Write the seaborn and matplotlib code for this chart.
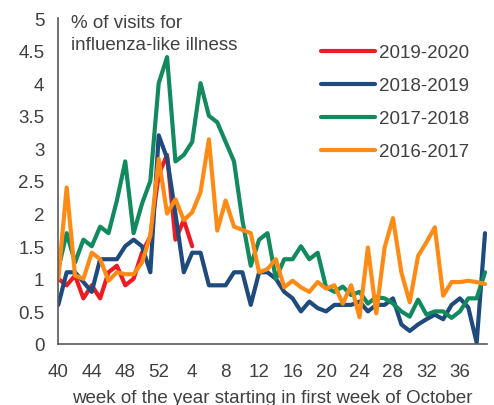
import matplotlib
matplotlib.use("Agg")
import matplotlib.pyplot as plt
import seaborn as sns
import pandas as pd
import numpy as np
from matplotlib.lines import Line2D

# ---- data ----
weeks = list(range(40, 53)) + list(range(1, 40))
seasons = ["2019-2020", "2018-2019", "2017-2018", "2016-2017"]
s2019_2020 = [1.0, 0.9, 1.05, 0.7, 0.9, 0.7, 1.1, 1.2, 0.9, 1.0, 1.4, 1.65,
              2.6, 2.9, 1.6, 1.9, 1.5]
s2018_2019 = [0.6, 1.1, 1.1, 0.95, 0.8, 1.3, 1.3, 1.3, 1.5, 1.6, 1.5, 1.1,
              3.2, 2.85, 2.0, 1.1, 1.4, 1.4, 0.9, 0.9, 0.9, 1.1, 1.1, 0.6,
              1.1, 1.1, 1.0, 0.8, 0.7, 0.5, 0.65, 0.55, 0.5, 0.6, 0.6, 0.6,
              0.65, 0.5, 0.6, 0.6, 0.7, 0.3, 0.2, 0.3, 0.38, 0.45, 0.38, 0.6,
              0.7, 0.56, 0.02, 1.7]
s2017_2018 = [1.15, 1.7, 1.25, 1.6, 1.5, 1.8, 1.7, 2.2, 2.8, 1.7, 2.15, 2.5,
              4.0, 4.4, 2.8, 2.9, 3.1, 4.0, 3.5, 3.4, 3.1, 2.8, 1.9, 1.2,
              1.6, 1.7, 1.0, 1.3, 1.3, 1.5, 1.3, 1.4, 0.87, 0.8, 0.88, 0.75,
              0.8, 0.62, 0.72, 0.7, 0.62, 0.5, 0.42, 0.68, 0.45, 0.5, 0.5, 0.4,
              0.5, 0.7, 0.7, 1.1]
s2016_2017 = [1.0, 2.4, 1.05, 1.0, 1.4, 1.3, 0.97, 1.1, 1.07, 1.07, 1.25, 1.66,
              2.84, 2.0, 2.22, 1.9, 2.02, 2.33, 3.14, 1.74, 2.2, 1.8, 1.75, 1.7,
              1.1, 1.15, 1.3, 0.87, 0.97, 0.87, 0.8, 0.95, 0.85, 0.9, 0.62, 0.9,
              0.41, 1.48, 0.47, 1.48, 1.93, 1.1, 0.64, 1.35, 1.56, 1.79, 0.74, 0.95,
              0.95, 0.97, 0.95, 0.92]
colors = ["#ED1C24", "#1F4A7C", "#13895E", "#FF8B17"]
ytick_vals = [0, 0.5, 1, 1.5, 2, 2.5, 3, 3.5, 4, 4.5, 5]
ytick_labels = ["0", "0.5", "1", "1.5", "2", "2.5", "3", "3.5", "4", "4.5", "5"]

series = [s2019_2020, s2018_2019, s2017_2018, s2016_2017]
rows = []
for name, vals in zip(seasons, series):
    for i, v in enumerate(vals):
        rows.append({"pos": i, "week": weeks[i], "season": name, "value": v})
df = pd.DataFrame(rows)

sns.set_theme(style="white")
plt.rcParams["font.family"] = ["Liberation Sans", "DejaVu Sans"]
TXT = "#404040"
FS = 13.5

W, H = 494, 406
fig = plt.figure(figsize=(W / 100, H / 100), dpi=100)
ax = fig.add_axes([58.3 / W, 1 - 345 / H, (486.7 - 58.3) / W, (345 - 19) / H])

palette = dict(zip(seasons, colors))
sns.lineplot(data=df, x="pos", y="value", hue="season", hue_order=seasons,
             palette=palette, linewidth=3.0, ax=ax, legend=False, sort=False)

ax.set_xlim(0, 51.2)
ax.set_ylim(0, 5)
ax.set_xlabel("")
ax.set_ylabel("")

pos = list(range(len(weeks)))
ax.set_xticks(pos)
ax.set_xticklabels([str(w) if i % 4 == 0 else "" for i, w in enumerate(weeks)])
ax.set_yticks(ytick_vals)
ax.set_yticklabels(ytick_labels)

for s in ["top", "right"]:
    ax.spines[s].set_visible(False)
for s in ["left", "bottom"]:
    ax.spines[s].set_color("#595959")
    ax.spines[s].set_linewidth(1.2)

ax.tick_params(axis="both", direction="in", length=3.5, width=1.0,
               color="#595959", labelsize=FS, labelcolor=TXT)
ax.tick_params(axis="x", pad=14)
ax.tick_params(axis="y", pad=10)
ax.grid(False)

# in-plot axis title
fig.text(71 / W, 1 - 28.5 / H, "% of visits for", fontsize=FS, color=TXT,
         ha="left", va="baseline")
fig.text(71 / W, 1 - 50.5 / H, "influenza-like illness", fontsize=FS, color=TXT,
         ha="left", va="baseline")

# x axis title
fig.text(272 / W, 1 - 403 / H, "week of the year starting in first week of October",
         fontsize=FS, color=TXT, ha="center", va="baseline")

handles = [Line2D([0], [0], color=c, lw=3.0, solid_capstyle="round") for c in colors]
leg = ax.legend(handles, seasons, loc="upper left",
                bbox_to_anchor=(321 / W, 1 - 45 / H), bbox_transform=fig.transFigure,
                frameon=False, fontsize=FS, handlelength=2.9, handletextpad=0.2,
                labelspacing=0.85, borderaxespad=0, borderpad=0)
for t in leg.get_texts():
    t.set_color(TXT)

fig.savefig("out.png", dpi=100)
